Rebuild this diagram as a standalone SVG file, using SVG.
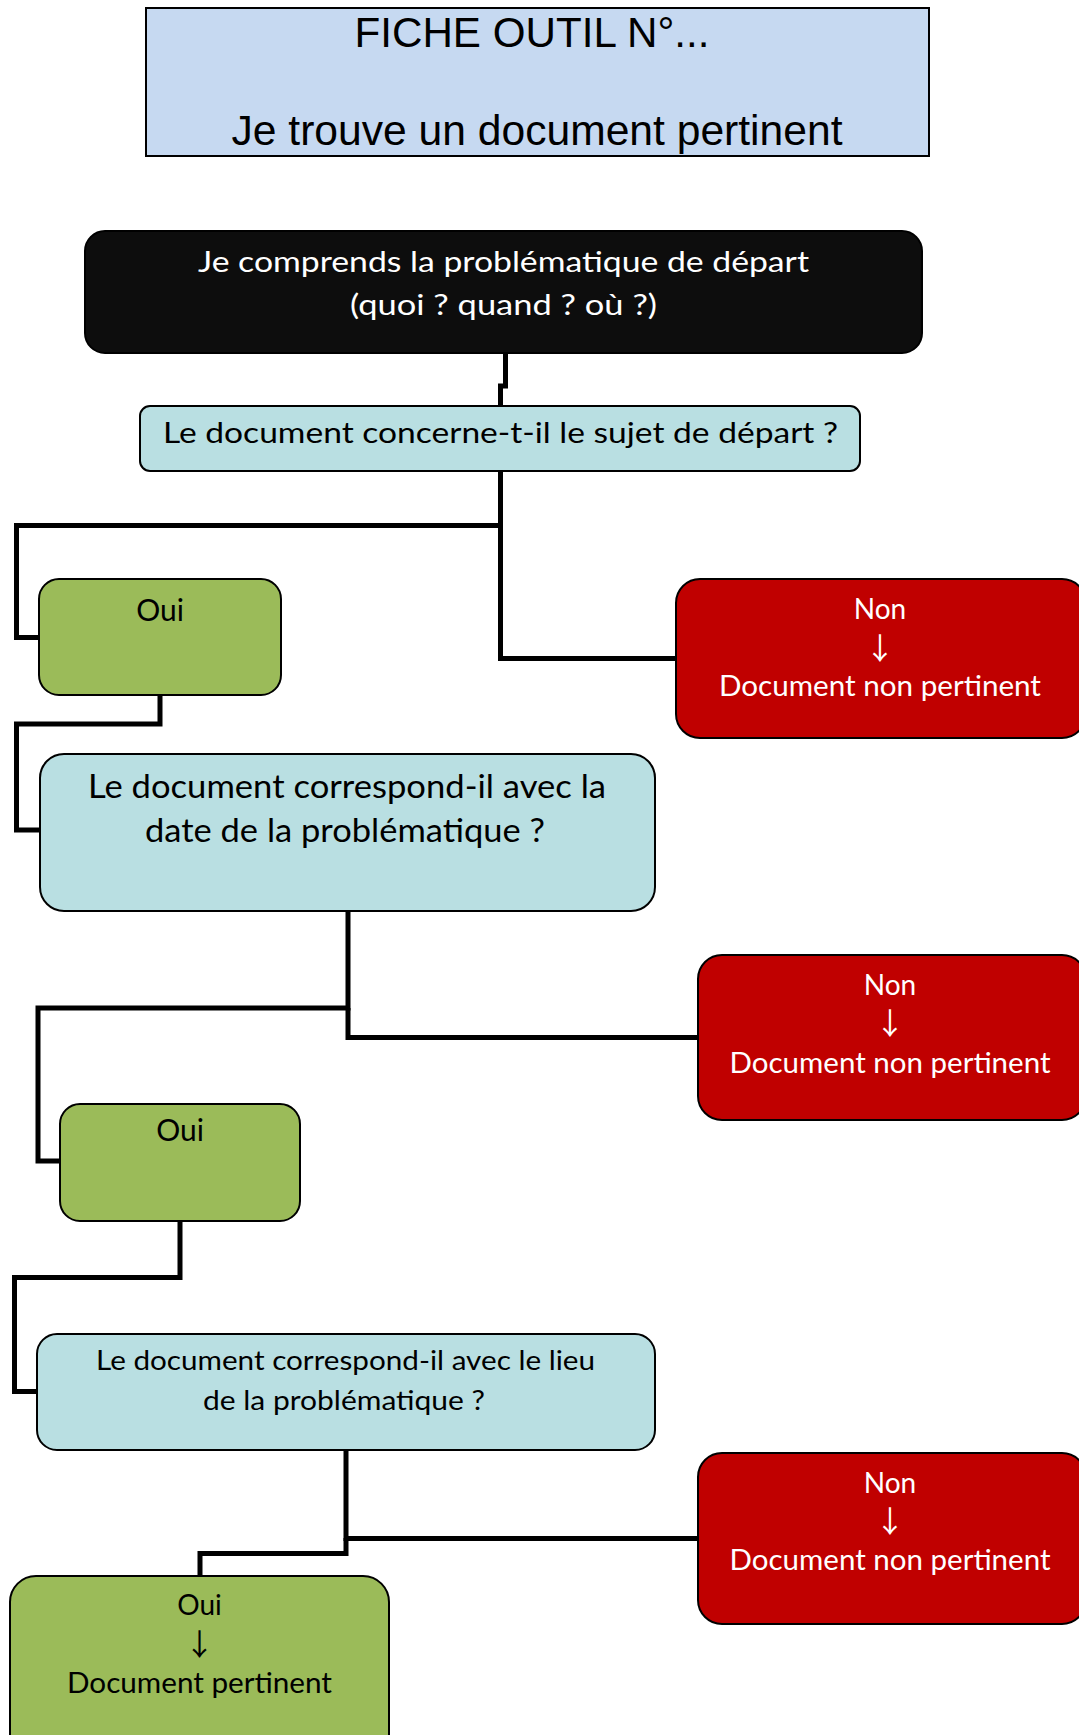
<svg xmlns="http://www.w3.org/2000/svg" width="1079" height="1735" viewBox="0 0 1079 1735">
<style>
.conn{fill:none;stroke:#000;stroke-width:5;stroke-linejoin:miter}
.box{stroke:#000;stroke-width:2}
.title{fill:#C6D9F1}
.dark{fill:#0D0D0D}
.q{fill:#B9DFE2}
.yes{fill:#9BBB59}
.no{fill:#C00000}
.t{font-family:Lato,"Open Sans","DejaVu Sans",sans-serif;text-anchor:middle;fill:#000}
.tw{fill:#fff}
.tt{font-family:"Liberation Sans",Arial,sans-serif;text-anchor:middle;font-size:42px;fill:#000}
.arr{font-family:"Noto Sans CJK SC","DejaVu Sans",sans-serif;text-anchor:middle;font-size:30px}
</style>
<rect width="1079" height="1735" fill="#fff"/>
<g id="connectors">
<path class="conn" d="M505.5,353 V386 H500.5 V406"/>
<path class="conn" d="M500.5,471 V525.5 H16.5 V637.5 H39"/>
<path class="conn" d="M500.5,525.5 V658.5 H676"/>
<path class="conn" d="M160,695 V724 H16.5 V830 H40"/>
<path class="conn" d="M348,911 V1008 H38 V1161 H60"/>
<path class="conn" d="M348,1008 V1037.5 H698"/>
<path class="conn" d="M180,1221 V1277.5 H14.5 V1391.5 H37"/>
<path class="conn" d="M346,1450 V1538.5 H698"/>
<path class="conn" d="M346,1538 V1553.5 H200 V1576"/>
</g>
<g id="title">
<rect class="title box" x="146" y="8" width="783" height="148"/>
<text class="tt" x="532" y="47" textLength="355" lengthAdjust="spacingAndGlyphs">FICHE OUTIL N°...</text>
<text class="tt" x="537" y="145" textLength="611" lengthAdjust="spacingAndGlyphs">Je trouve un document pertinent</text>
</g>
<g id="start">
<rect class="dark box" x="85" y="231" width="837" height="122" rx="20"/>
<text class="t tw" font-size="28" x="503.5" y="272" textLength="611" lengthAdjust="spacingAndGlyphs">Je comprends la problématique de départ</text>
<text class="t tw" font-size="28" x="503.5" y="315" textLength="307" lengthAdjust="spacingAndGlyphs">(quoi ? quand ? où ?)</text>
</g>
<g id="q1">
<rect class="q box" x="140" y="406" width="720" height="65" rx="10"/>
<text class="t" font-size="28" x="500.5" y="443" textLength="675" lengthAdjust="spacingAndGlyphs">Le document concerne-t-il le sujet de départ ?</text>
</g>
<g id="oui1">
<rect class="yes box" x="39" y="579" width="242" height="116" rx="20"/>
<text class="t" font-size="30" x="160" y="620.5">Oui</text>
</g>
<g id="non1">
<rect class="no box" x="676" y="579" width="410" height="159" rx="24"/>
<text class="t tw" font-size="28" x="880" y="619">Non</text>
<text class="arr tw" x="880" y="659">↓</text>
<text class="t tw" font-size="28" x="880" y="696" textLength="322" lengthAdjust="spacingAndGlyphs">Document non pertinent</text>
</g>
<g id="q2">
<rect class="q box" x="40" y="754" width="615" height="157" rx="24"/>
<text class="t" font-size="32" x="347" y="798" textLength="518" lengthAdjust="spacingAndGlyphs">Le document correspond-il avec la</text>
<text class="t" font-size="32" x="345" y="842" textLength="400" lengthAdjust="spacingAndGlyphs">date de la problématique ?</text>
</g>
<g id="non2">
<rect class="no box" x="698" y="955" width="388" height="165" rx="24"/>
<text class="t tw" font-size="28" x="890" y="995">Non</text>
<text class="arr tw" x="890" y="1034">↓</text>
<text class="t tw" font-size="28" x="890" y="1073" textLength="321" lengthAdjust="spacingAndGlyphs">Document non pertinent</text>
</g>
<g id="oui2">
<rect class="yes box" x="60" y="1104" width="240" height="117" rx="20"/>
<text class="t" font-size="30" x="180" y="1141">Oui</text>
</g>
<g id="q3">
<rect class="q box" x="37" y="1334" width="618" height="116" rx="20"/>
<text class="t" font-size="26" x="345.5" y="1370" textLength="499" lengthAdjust="spacingAndGlyphs">Le document correspond-il avec le lieu</text>
<text class="t" font-size="26" x="344" y="1410" textLength="282" lengthAdjust="spacingAndGlyphs">de la problématique ?</text>
</g>
<g id="non3">
<rect class="no box" x="698" y="1453" width="388" height="171" rx="24"/>
<text class="t tw" font-size="28" x="890" y="1493">Non</text>
<text class="arr tw" x="890" y="1532">↓</text>
<text class="t tw" font-size="28" x="890" y="1570" textLength="321" lengthAdjust="spacingAndGlyphs">Document non pertinent</text>
</g>
<g id="oui3">
<rect class="yes box" x="10" y="1576" width="379" height="190" rx="26"/>
<text class="t" font-size="28" x="199.5" y="1615">Oui</text>
<text class="arr" x="199.5" y="1655">↓</text>
<text class="t" font-size="28" x="199.5" y="1693" textLength="265" lengthAdjust="spacingAndGlyphs">Document pertinent</text>
</g>
</svg>
